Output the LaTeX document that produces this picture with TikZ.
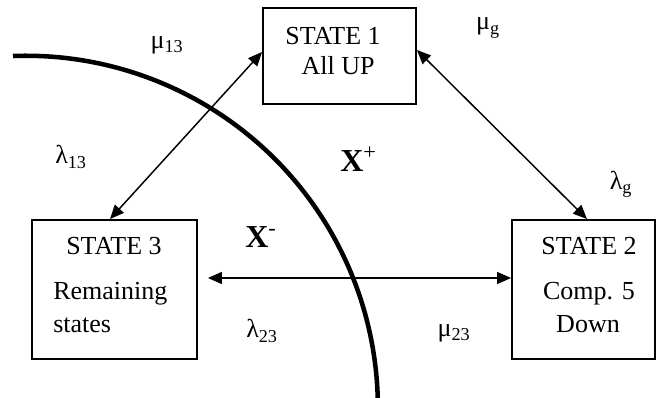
\documentclass[tikz,border=0pt]{standalone}
\usepackage{fontspec}
\setmainfont{Liberation Serif}
\usetikzlibrary{arrows.meta,calc}
\begin{document}
\begin{tikzpicture}[x=0.75pt,y=-0.75pt,
  statebox/.style={draw, line width=1.4pt, inner sep=0pt},
  txt/.style={font=\fontsize{19.5}{22}\selectfont, inner sep=0pt},
  rate/.style={font=\fontsize{19.5}{22}\selectfont, inner sep=0pt},
  region/.style={font=\fontsize{24}{26}\selectfont\bfseries, inner sep=0pt},
  link/.style={line width=1.1pt, {Triangle[length=10.5pt,width=9pt]}-{Triangle[length=10.5pt,width=9pt]}},
  boundary/.style={line width=3.4pt}
]
\useasboundingbox (0,0) rectangle (656,398);

% boundary arc
\draw[boundary] (13,56) arc[start angle=92.1, end angle=1.6, radius=264pt];

% state boxes
\node[statebox, minimum width=114.75pt, minimum height=72pt] (s1) at (339.5,56) {};
\node[statebox, minimum width=123.75pt, minimum height=104.25pt] (s3) at (114.5,289.5) {};
\node[statebox, minimum width=107.25pt, minimum height=104.25pt] (s2) at (583.5,289.5) {};

% box texts
\node[txt, anchor=base] (s1t) at (333,45) {STATE 1};
\node[txt, anchor=base] (s1d) at (338,75) {All UP};
\node[txt, anchor=base] (s3t) at (114,255) {STATE 3};
\node[txt, anchor=base west] (s3d) at (53,300) {Remaining};
\node[txt, anchor=base west] (s3e) at (53,333) {states};
\node[txt, anchor=base] (s2t) at (589,255) {STATE 2};
\node[txt, anchor=base] (s2d) at (589,300) {Comp. 5};
\node[txt, anchor=base] (s2e) at (588,333) {Down};

% connectors
\draw[link] ([yshift=3pt]s1.west) -- ([xshift=-3.4pt]s3.north);
\draw[link] ([yshift=4.5pt]s1.east) -- ([xshift=2.6pt]s2.north);
\draw[link] ($(s3.east)+(10,-11.5)$) -- ($(s2.west)+(0,-11.5)$);

% rate labels
\node[rate] (mu13) at (167,45) {μ\textsubscript{13}};
\node[rate] (la13) at (71,157) {λ\textsubscript{13}};
\node[rate] (la23) at (262,331) {λ\textsubscript{23}};
\node[rate] (mu23) at (454,333) {μ\textsubscript{23}};
\node[rate] (mug) at (488,28) {μ\textsubscript{g}};
\node[rate] (lag) at (621,184) {λ\textsubscript{g}};

% region labels
\node[region, anchor=base west] (xplus) at (340,172) {X\textsuperscript{\mdseries +}};
\node[region, anchor=base west] (xminus) at (245,248) {X\textsuperscript{\mdseries -}};
\end{tikzpicture}
\end{document}
